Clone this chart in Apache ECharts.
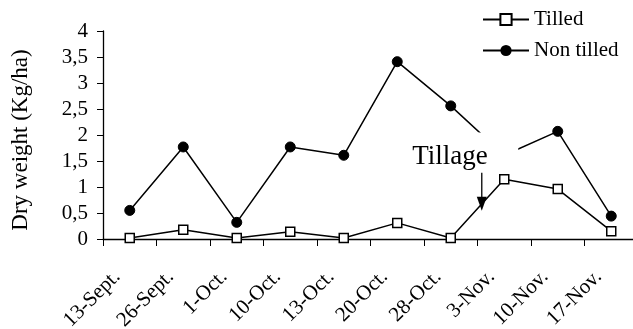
<!DOCTYPE html>
<html><head><meta charset="utf-8">
<script src="https://cdn.jsdelivr.net/npm/echarts@6/dist/echarts.min.js"></script>
<style>html,body{margin:0;padding:0;background:#fff}#c{width:633px;height:329px}</style>
</head><body><div id="c"></div>
<script>
const categories = ['13-Sept.','26-Sept.','1-Oct.','10-Oct.','13-Oct.','20-Oct.','28-Oct.','3-Nov.','10-Nov.','17-Nov.'];
const tilled = [0.02,0.18,0.02,0.14,0.02,0.31,0.02,1.15,0.96,0.15];
const nonTilled = [0.55,1.77,0.32,1.77,1.61,3.41,2.56,1.61,2.07,0.44];
const yTickLabels = ['0','0,5','1','1,5','2','2,5','3','3,5','4'];
const seriesNames = ['Tilled','Non tilled'];
const annotationText = 'Tillage';

const FONT = '"Liberation Serif", "Times New Roman", serif';
const chart = echarts.init(document.getElementById('c'), null, {renderer:'canvas'});
chart.setOption({
  animation:false,
  backgroundColor:'#fff',
  grid:{left:103, right:-5, top:31, bottom:90, containLabel:false, outerBoundsMode:'none'},
  legend:{
    orient:'vertical', left:477, top:4, itemWidth:46, itemHeight:14, itemGap:10,
    textStyle:{fontFamily:FONT, fontSize:21, color:'#000'},
    data:seriesNames
  },
  xAxis:{
    type:'category', data:categories, boundaryGap:true,
    axisLine:{lineStyle:{color:'#000', width:1.3}},
    axisTick:{show:true, length:7, lineStyle:{color:'#000', width:1}},
    axisLabel:{interval:0, rotate:45, margin:22, padding:[0,18,0,0], fontFamily:FONT, fontSize:21, color:'#000'},
    splitLine:{show:false}
  },
  yAxis:{
    type:'value', min:0, max:4, interval:0.5,
    name:'Dry weight (Kg/ha)', nameLocation:'middle', nameGap:71,
    nameTextStyle:{fontFamily:FONT, fontSize:23, color:'#000', padding:[0,10,0,0]},
    axisLine:{show:true, lineStyle:{color:'#000', width:1.3}},
    axisTick:{show:true, length:6, lineStyle:{color:'#000', width:1}},
    axisLabel:{margin:15, fontFamily:FONT, fontSize:21, color:'#000',
      formatter:(v)=>yTickLabels[Math.round(v/0.5)]},
    splitLine:{show:false}
  },
  series:[
    {name:seriesNames[0], type:'line', data:tilled, symbol:'rect', symbolSize:9, z:3,
      lineStyle:{color:'#000', width:1.5},
      itemStyle:{color:'#fff', borderColor:'#000', borderWidth:1.5}},
    {name:seriesNames[1], type:'line', data:nonTilled, symbol:'circle', symbolSize:10, z:2,
      lineStyle:{color:'#000', width:1.5},
      itemStyle:{color:'#000', borderColor:'#000'}}
  ]
});

const p6 = chart.convertToPixel({gridIndex:0}, [6, 0]);
const p7 = chart.convertToPixel({gridIndex:0}, [7, 0]);
const yTop = chart.convertToPixel({gridIndex:0}, [7, 2.05])[1];
const yBot = chart.convertToPixel({gridIndex:0}, [7, 1.33])[1];
const yTxt = chart.convertToPixel({gridIndex:0}, [7, 1.57])[1];
const ax = p6[0] + 0.58*(p7[0]-p6[0]);
const x7 = p7[0];
chart.setOption({
  graphic:[
    {type:'rect', z:100, shape:{x:x7-94, y:yTop, width:108, height:yBot-yTop}, style:{fill:'#fff'}},
    {type:'text', z:101, x:x7-92, y:yTxt, style:{text:annotationText, font:'27px "Liberation Serif", serif', fill:'#000', verticalAlign:'middle', align:'left'}},
    {type:'line', z:101, shape:{x1:ax, y1:yBot+3, x2:ax, y2:yBot+30}, style:{stroke:'#000', lineWidth:1.3}},
    {type:'polygon', z:101, shape:{points:[[ax-5,yBot+27],[ax+5,yBot+27],[ax,yBot+41]]}, style:{fill:'#000'}}
  ]
});
</script></body></html>
